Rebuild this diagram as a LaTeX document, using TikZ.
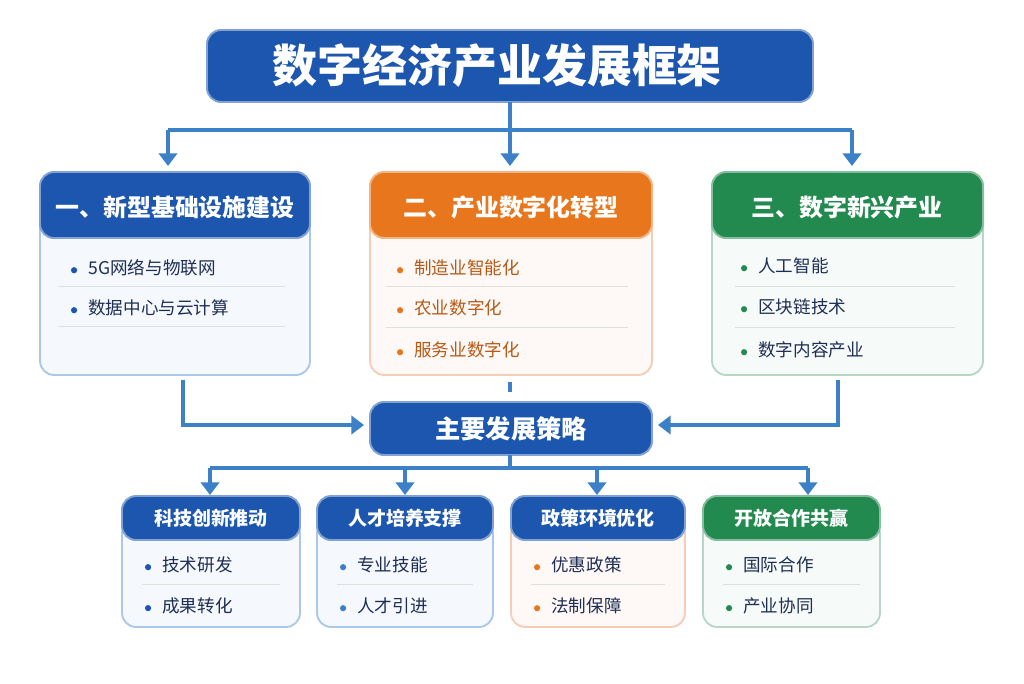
\documentclass[tikz,border=0pt]{standalone}
\usepackage{fontspec}
\setmainfont{Noto Sans CJK SC}
\usetikzlibrary{arrows.meta,positioning}
\definecolor{cblue}{HTML}{1C56AE}
\definecolor{cbluel}{HTML}{A9C8EA}
\definecolor{corange}{HTML}{E8761C}
\definecolor{corangel}{HTML}{F3CDB5}
\definecolor{cgreen}{HTML}{22894F}
\definecolor{cgreenl}{HTML}{B8D6C8}
\definecolor{cline}{HTML}{3C80C8}
\definecolor{cnavy}{HTML}{1E2E55}
\definecolor{cbrown}{HTML}{B85A16}
\newcommand{\dotb}[1]{\tikz[baseline=-3.2pt]\fill[#1] (0,0) circle (2.2pt);}
\begin{document}
\begin{tikzpicture}[x=0.025cm,y=-0.025cm]
\tikzset{ >={Triangle[length=9pt,width=13pt]},
  link/.style={cline, line width=3.2pt},
  head/.style={rounded corners=10pt, draw=#1!55!white, line width=1.4pt, fill=#1},
  body/.style={rounded corners=10pt, draw=#1, line width=1.3pt, fill=#1!12!white},
  item/.style={anchor=west, font=\fontsize{12.5}{14}\selectfont, text=#1},
  sep/.style={draw=gray!25, line width=0.6pt},
}
\useasboundingbox (0,0) rectangle (1024,683);

% title
\draw [head=cblue] (207,30) rectangle (813,102);
\node [text=white, font=\bfseries\fontsize{32}{36}\selectfont] (title) at (497,66) {数字经济产业发展框架};

% upper links
\coordinate (t0) at (510,102);
\coordinate (tj) at (510,130);
\coordinate (tl) at (168,130);
\coordinate (tr) at (852,130);
\coordinate (a1) at (168,166);
\coordinate (a2) at (510,166);
\coordinate (a3) at (852,166);
\draw [link] (t0) -- (tj);
\draw [link] (tl) -- (tr);
\draw [link,->] (tl) -- (a1);
\draw [link,->] (tj) -- (a2);
\draw [link,->] (tr) -- (a3);

% three columns
\draw [body=cbluel] (40,200) rectangle (310,375);
\draw [head=cblue] (40,172) rectangle (310,238);
\node [text=white, font=\bfseries\fontsize{17}{20}\selectfont] (c1) at (175,207) {一、新型基础设施建设};
\draw [body=corangel] (370,200) rectangle (652,375);
\draw [head=corange] (370,172) rectangle (652,238);
\node [text=white, font=\bfseries\fontsize{17}{20}\selectfont] (c2) at (511,207) {二、产业数字化转型};
\draw [body=cgreenl] (712,200) rectangle (983,375);
\draw [head=cgreen] (712,172) rectangle (983,238);
\node [text=white, font=\bfseries\fontsize{17}{20}\selectfont] (c3) at (847,207) {三、数字新兴产业};

\foreach \y/\t in {268/5G网络与物联网, 308/数据中心与云计算}
  \node [item=cnavy] at (66,\y) {\dotb{cblue}\hspace{8pt}\t};
\foreach \y in {286,326} \draw [sep] (58,\y) -- (285,\y);
\foreach \y/\t in {268/制造业智能化, 308/农业数字化, 350/服务业数字化}
  \node [item=cbrown] at (392,\y) {\dotb{corange}\hspace{8pt}\t};
\foreach \y in {286,327} \draw [sep] (386,\y) -- (628,\y);
\foreach \y/\t in {266/人工智能, 307/区块链技术, 350/数字内容产业}
  \node [item=cnavy] at (736,\y) {\dotb{cgreen}\hspace{8pt}\t};
\foreach \y in {286,327} \draw [sep] (735,\y) -- (955,\y);

% strategy
\draw [head=cblue] (370,402) rectangle (652,455);
\node [text=white, font=\bfseries\fontsize{18}{20}\selectfont] (strat) at (511,429) {主要发展策略};
\coordinate (l0) at (183,380);
\coordinate (l1) at (183,425);
\coordinate (l2) at (364,425);
\coordinate (r0) at (838,380);
\coordinate (r1) at (838,425);
\coordinate (r2) at (658,425);
\coordinate (m0) at (510,382);
\coordinate (m1) at (510,392);
\draw [link,->] (l0) -- (l1) -- (l2);
\draw [link,->] (r0) -- (r1) -- (r2);
\draw [link] (m0) -- (m1);

\coordinate (s0) at (510,455);
\coordinate (sj) at (510,468);
\coordinate (sl) at (210,468);
\coordinate (sr) at (808,468);
\draw [link] (s0) -- (sj);
\draw [link] (sl) -- (sr);
\foreach \x in {210,405,597,808} \draw [link,->] (\x,468) -- (\x,495);

% bottom boxes
\foreach \xa/\xb/\hc/\bc/\dc/\t/\i/\j in {
  122/300/cblue/cbluel/cblue/科技创新推动/技术研发/成果转化,
  317/493/cblue/cbluel/cline/人才培养支撑/专业技能/人才引进,
  511/685/cblue/corangel/corange/政策环境优化/优惠政策/法制保障,
  703/880/cgreen/cgreenl/cgreen/开放合作共赢/国际合作/产业协同}{
  \draw [body=\bc] (\xa,520) rectangle (\xb,627);
  \draw [head=\hc] (\xa,496) rectangle (\xb,540);
  \node [text=white, font=\bfseries\fontsize{13.5}{16}\selectfont] at ({(\xa+\xb)/2},518) {\t};
  \node [item=cnavy] at (\xa+18,565) {\dotb{\dc}\hspace{8pt}\i};
  \node [item=cnavy] at (\xa+18,606) {\dotb{\dc}\hspace{8pt}\j};
  \draw [sep] (\xa+20,584) -- (\xb-20,584);
}
\end{tikzpicture}
\end{document}
